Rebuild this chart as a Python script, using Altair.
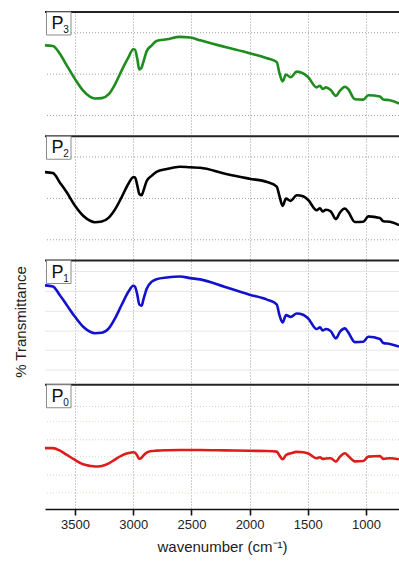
import altair as alt
import pandas as pd

# Shared wavenumber grid (cm^-1) and transmittance readings for each sample
wavenumber = [3758, 3690, 3630, 3570, 3500, 3430, 3370, 3330, 3270, 3210,
              3155, 3100, 3040, 3000, 2985, 2965, 2948, 2927, 2913, 2884,
              2840, 2800, 2710, 2600, 2510, 2425, 2210, 2000, 1850, 1767,
              1745, 1716, 1687, 1647, 1595, 1540, 1496, 1424, 1395, 1372,
              1344, 1303, 1258, 1223, 1180, 1152, 1095, 1023, 980, 880,
              851, 794, 716]

p3 = [4.39, 4.36, 3.98, 3.41, 2.76, 2.20, 1.90, 1.82, 1.84, 2.03,
      2.52, 3.17, 3.82, 4.20, 4.18, 3.74, 3.22, 3.33, 3.58, 4.11,
      4.39, 4.60, 4.68, 4.80, 4.77, 4.63, 4.31, 4.01, 3.77, 3.58,
      3.09, 2.65, 2.98, 2.85, 3.12, 3.04, 2.85, 2.36, 2.44, 2.28,
      2.36, 2.23, 1.95, 2.20, 2.39, 2.28, 1.79, 1.77, 1.98, 1.92,
      1.77, 1.74, 1.58]

p2 = [4.27, 4.22, 3.76, 3.28, 2.64, 2.16, 1.92, 1.85, 1.88, 2.07,
      2.48, 3.05, 3.72, 4.02, 4.02, 3.63, 3.22, 3.15, 3.35, 3.84,
      4.10, 4.28, 4.42, 4.53, 4.50, 4.48, 4.19, 3.95, 3.79, 3.57,
      3.15, 2.64, 2.99, 2.88, 3.15, 3.10, 2.92, 2.43, 2.52, 2.37,
      2.45, 2.37, 2.00, 2.32, 2.51, 2.35, 1.86, 1.87, 2.13, 2.05,
      1.90, 1.87, 1.71]

p1 = [4.80, 4.75, 4.32, 3.84, 3.28, 2.80, 2.56, 2.49, 2.51, 2.72,
      3.22, 3.85, 4.50, 4.78, 4.74, 4.35, 3.88, 3.82, 4.10, 4.64,
      4.98, 5.10, 5.18, 5.23, 5.15, 5.09, 4.72, 4.35, 4.11, 3.88,
      3.40, 3.01, 3.36, 3.28, 3.44, 3.38, 3.20, 2.69, 2.77, 2.62,
      2.69, 2.59, 2.24, 2.56, 2.72, 2.53, 2.06, 2.08, 2.32, 2.21,
      2.02, 1.97, 1.84]

p0 = [2.94, 2.94, 2.82, 2.61, 2.37, 2.16, 2.08, 2.05, 2.08, 2.20,
      2.40, 2.58, 2.70, 2.74, 2.72, 2.58, 2.42, 2.48, 2.58, 2.72,
      2.80, 2.82, 2.84, 2.85, 2.85, 2.85, 2.83, 2.81, 2.80, 2.77,
      2.60, 2.40, 2.61, 2.69, 2.76, 2.74, 2.68, 2.45, 2.50, 2.42,
      2.44, 2.45, 2.29, 2.53, 2.69, 2.56, 2.30, 2.32, 2.53, 2.56,
      2.42, 2.45, 2.40]

samples = ["P3", "P2", "P1", "P0"]
subscripts = ["3", "2", "1", "0"]
panel_index = [3, 2, 1, 0]          # stacking order, bottom panel = 0
colors = ["#1e8c1e", "#000000", "#1212cc", "#dd1c1c"]
x_ticks = [3500, 3000, 2500, 2000, 1500, 1000]

PANEL = 6  # y units per panel

rows = []
for name, idx, vals in zip(samples, panel_index, [p3, p2, p1, p0]):
    for w, v in zip(wavenumber, vals):
        rows.append({"wn": w, "value": v, "sample": name, "panel": idx})
spectra = pd.DataFrame(rows)

labels = pd.DataFrame({"sample": samples, "sub": subscripts, "panel": panel_index})

FONT = "Liberation Sans"
x_scale = alt.Scale(domain=[716, 3758], reverse=True, nice=False, zero=False)
y_scale = alt.Scale(domain=[0, 4 * PANEL], nice=False, zero=False)

x_axis = alt.Axis(values=x_ticks, format="d", grid=True, gridDash=[1, 2],
                  gridColor="#9a9a9a", gridWidth=1, domainColor="#111",
                  domainWidth=1.6, tickColor="#111", tickSize=6, tickWidth=1.6,
                  labelFontSize=13, labelFont=FONT, labelColor="#222",
                  labelPadding=3, title="wavenumber (cm⁻¹)", titleFont=FONT,
                  titleFontSize=15, titleFontWeight="normal", titleColor="#222",
                  titlePadding=8)
y_axis = alt.Axis(labels=False, ticks=False, grid=False, domainColor="#111",
                  domainWidth=1.6, title=None)

# Horizontal guide lines inside each panel (panel-relative units)
def hlines(positions, panel, **style):
    df = pd.DataFrame({"y": [p + PANEL * panel for p in positions]})
    return alt.Chart(df).mark_rule(**style).encode(
        y=alt.Y("y:Q", scale=y_scale, axis=None))

grid_p3 = hlines([1, 3, 5], 3, color="#a0a0a0", strokeDash=[1, 2], strokeWidth=1)
grid_p2 = hlines([1, 3, 5], 2, color="#a0a0a0", strokeDash=[1, 2], strokeWidth=1)
grid_p1 = hlines([0.71, 1.67, 2.59, 3.55, 4.51, 5.47], 1, color="#e6e6e6", strokeWidth=1)
grid_p0a = hlines([1.64, 3.34, 4.95], 0, color="#d0d0d0", strokeDash=[1, 2], strokeWidth=1)
grid_p0b = hlines([0.77, 2.53, 4.22], 0, color="#cfe8c8", strokeDash=[1, 2], strokeWidth=1)

lines = alt.Chart(spectra).transform_calculate(
    ystack=f"datum.value + {PANEL} * datum.panel"
).mark_line(strokeWidth=2.6, interpolate="monotone", clip=True).encode(
    x=alt.X("wn:Q", scale=x_scale, axis=x_axis),
    y=alt.Y("ystack:Q", scale=y_scale, axis=y_axis),
    color=alt.Color("sample:N", scale=alt.Scale(domain=samples, range=colors), legend=None),
    detail="sample:N",
)

# Panel separators and top frame
sep = pd.DataFrame({"y": [PANEL, 2 * PANEL, 3 * PANEL, 4 * PANEL]})
separators = alt.Chart(sep).mark_rule(color="#222", strokeWidth=1.8).encode(
    y=alt.Y("y:Q", scale=y_scale, axis=None))

base_lbl = alt.Chart(labels).transform_calculate(
    top=f"{PANEL} * datum.panel + {PANEL}",
    bottom=f"{PANEL} * datum.panel + {PANEL} - 1.11",
)
boxes = base_lbl.mark_rect(fill="white", stroke="#8a8a8a", strokeWidth=1).encode(
    x=alt.value(1.5), x2=alt.value(26),
    y=alt.Y("top:Q", scale=y_scale, axis=None), y2="bottom:Q")
p_text = base_lbl.mark_text(font=FONT, fontSize=18, baseline="alphabetic",
                            align="center", dy=17, color="#111").encode(
    x=alt.value(12.5), y=alt.Y("top:Q", scale=y_scale, axis=None), text=alt.value("P"))
sub_text = base_lbl.mark_text(font=FONT, fontSize=10, baseline="alphabetic",
                              align="center", dy=21, color="#111").encode(
    x=alt.value(21), y=alt.Y("top:Q", scale=y_scale, axis=None), text="sub:N")

# Shared y-axis title, drawn as rotated text to the left of the panels
y_title = alt.Chart(pd.DataFrame({"t": ["% Transmittance"]})).mark_text(
    font=FONT, fontSize=15, angle=270, align="center", baseline="middle",
    color="#222").encode(x=alt.value(-24), y=alt.value(310), text="t:N")

chart = alt.layer(
    grid_p3, grid_p2, grid_p1, grid_p0a, grid_p0b,
    lines, separators, boxes, p_text, sub_text, y_title,
).properties(
    width=354, height=497,
    autosize=alt.AutoSizeParams(type="none"),
    padding={"left": 45, "top": 12, "right": 0, "bottom": 53},
    background="white",
).configure_view(stroke=None)

chart.save("out.html", embed_options={"renderer": "svg", "actions": False})
